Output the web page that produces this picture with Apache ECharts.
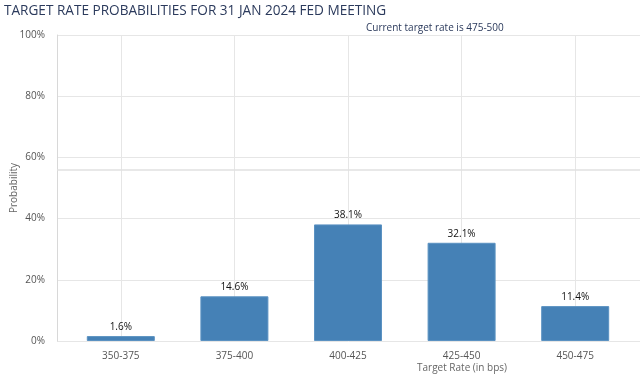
<!DOCTYPE html>
<html>
<head>
<meta charset="utf-8">
<script src="https://cdn.jsdelivr.net/npm/echarts@6/dist/echarts.min.js"></script>
<style>
  html, body { margin: 0; padding: 0; background: #fff; }
  #chart { width: 640px; height: 377px; }
</style>
</head>
<body>
<div id="chart"></div>
<script>
'use strict';

// chart data
var rateBuckets = ['350-375', '375-400', '400-425', '425-450', '450-475'];
var probabilities = [1.6, 14.6, 38.1, 32.1, 11.4];
var yTicks = [0, 20, 40, 60, 80, 100];
var artifactLine = 56; // faint horizontal line seen in the source screenshot

(function (echarts) {
    var FONT = '"Open Sans", "DejaVu Sans", sans-serif';
    var chart = echarts.init(document.getElementById('chart'));

    var yBase = {
        type: 'value',
        min: yTicks[0],
        max: yTicks[yTicks.length - 1],
        interval: yTicks[1] - yTicks[0]
    };

    chart.setOption({
        animation: false,
        title: [{
            text: 'TARGET RATE PROBABILITIES FOR 31 JAN 2024 FED MEETING',
            left: -1, top: -1,
            textStyle: { fontFamily: FONT, fontSize: 13.6, fontWeight: 'normal', color: '#2b3a5c' }
        }, {
            text: 'Current target rate is 475-500',
            left: 361, top: 18,
            textStyle: { fontFamily: FONT, fontSize: 10, fontWeight: 'normal', color: '#2b3a5c' }
        }, {
            text: 'Target Rate (in bps)',
            left: 412, top: 358,
            textStyle: { fontFamily: FONT, fontSize: 10, fontWeight: 'normal', color: '#666' }
        }],
        grid: [
            // bars
            { left: 64, right: 8, top: 35, bottom: 36, outerBoundsMode: 'none' },
            // full-width horizontal grid
            { left: 57, right: 0, top: 35, bottom: 36, outerBoundsMode: 'none' }
        ],
        xAxis: [{
            type: 'category',
            gridIndex: 0,
            data: rateBuckets,
            axisLine: { show: false },
            axisTick: { show: false },
            splitLine: { show: true, alignWithLabel: true, lineStyle: { color: '#e6e6e6' } },
            axisLabel: { fontFamily: FONT, fontSize: 10, color: '#555', margin: 10, interval: 0 }
        }, {
            type: 'category',
            gridIndex: 1,
            data: rateBuckets,
            show: false
        }],
        yAxis: [Object.assign({}, yBase, {
            gridIndex: 0,
            show: false,
            splitLine: { show: false }
        }), Object.assign({}, yBase, {
            gridIndex: 1,
            name: 'Probability',
            nameLocation: 'middle',
            nameGap: 38,
            nameMoveOverlap: false,
            nameTextStyle: { fontFamily: FONT, fontSize: 10, color: '#666' },
            axisLine: { show: true, lineStyle: { color: '#d8d8d8' } },
            axisTick: { show: false },
            splitLine: { show: true, lineStyle: { color: '#e6e6e6' } },
            axisLabel: {
                fontFamily: FONT, fontSize: 10, color: '#555', margin: 12,
                formatter: function (v) { return v + '%'; }
            }
        })],
        series: [{
            type: 'bar',
            xAxisIndex: 0,
            yAxisIndex: 0,
            data: probabilities,
            barWidth: 68,
            itemStyle: { color: '#4581b6', borderColor: '#5b92c2', borderWidth: 1 },
            label: {
                show: true,
                position: 'top',
                distance: 4,
                fontFamily: FONT,
                fontSize: 10,
                color: '#111',
                formatter: function (p) { return p.value.toFixed(1) + '%'; }
            }
        }, {
            type: 'line',
            xAxisIndex: 1,
            yAxisIndex: 1,
            data: [],
            silent: true,
            markLine: {
                symbol: 'none',
                silent: true,
                label: { show: false },
                lineStyle: { color: '#e0e0e0', type: 'solid', width: 1.5 },
                data: [{ yAxis: artifactLine }]
            }
        }]
    });
})(echarts);
</script>
</body>
</html>
